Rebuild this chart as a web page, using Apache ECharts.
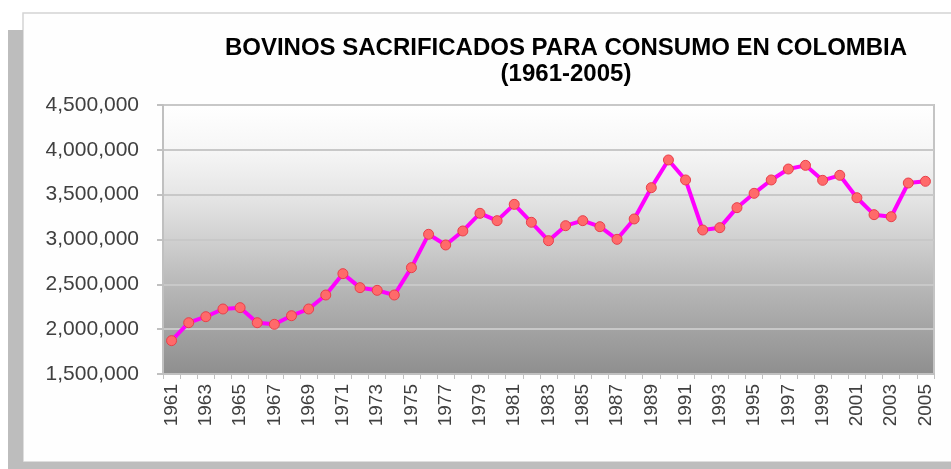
<!DOCTYPE html>
<html>
<head>
<meta charset="utf-8">
<script src="https://cdn.jsdelivr.net/npm/echarts@6/dist/echarts.min.js"></script>
<style>
  html, body { margin: 0; padding: 0; background: #fff; }
  #chart { width: 951px; height: 469px; }
</style>
</head>
<body>
<div id="chart"></div>
<script>
// años 1961-2005
const years = []
for (let y = 1961; y <= 2005; y++) years.push(String(y))

// cabezas sacrificadas
const sacrificados = [
  1872000, 2072000, 2139000, 2225000, 2240000, 2072000, 2054000, 2150000, 2225000, 2381000,
  2619000, 2463000, 2433000, 2381000, 2686000, 3058000, 2939000, 3095000, 3292000, 3210000,
  3392000, 3192000, 2987000, 3154000, 3210000, 3143000, 3002000, 3229000, 3578000, 3887000,
  3664000, 3106000, 3132000, 3355000, 3515000, 3664000, 3786000, 3827000, 3660000, 3716000,
  3466000, 3277000, 3254000, 3630000, 3649000
]

const titleLines = ['BOVINOS SACRIFICADOS PARA CONSUMO EN COLOMBIA', '(1961-2005)']

const chart = echarts.init(document.getElementById('chart'))

// fondo degradado del área de trazado
const plotGradient = new echarts.graphic.LinearGradient(0, 0, 0, 1, [
  { offset: 0, color: '#ffffff' },
  { offset: 0.17, color: '#f6f6f6' },
  { offset: 0.35, color: '#e4e4e4' },
  { offset: 0.5, color: '#d0d0d0' },
  { offset: 0.67, color: '#b8b8b8' },
  { offset: 0.84, color: '#a2a2a2' },
  { offset: 1, color: '#8e8e8e' }
])

chart.setOption({
  animation: false,
  textStyle: { fontFamily: 'Liberation Sans, Arial, sans-serif' },
  graphic: [
    // marco blanco
    { type: 'rect', shape: { x: 23, y: 13, width: 940, height: 449 }, style: { fill: '#fefefe', stroke: '#d4d4d4', lineWidth: 1.5 }, z: -10 },
    // sombra gris del marco
    { type: 'rect', shape: { x: 8, y: 30, width: 15, height: 439 }, style: { fill: '#bdbdbd' }, z: -9 },
    { type: 'rect', shape: { x: 8, y: 462, width: 943, height: 7 }, style: { fill: '#bdbdbd' }, z: -9 },
    // título
    { type: 'text', x: 566, y: 48, style: { text: titleLines[0], textAlign: 'center', textVerticalAlign: 'middle', fill: '#000', font: 'bold 24px "Liberation Sans", Arial, sans-serif' } },
    { type: 'text', x: 566, y: 74, style: { text: titleLines[1], textAlign: 'center', textVerticalAlign: 'middle', fill: '#000', font: 'bold 24px "Liberation Sans", Arial, sans-serif' } }
  ],
  grid: {
    left: 163, top: 105, right: 17, bottom: 95,
    show: true,
    backgroundColor: plotGradient,
    borderColor: '#c4c4c4',
    borderWidth: 2
  },
  xAxis: {
    type: 'category',
    data: years,
    boundaryGap: true,
    axisLine: { lineStyle: { color: '#c0c0c0', width: 2 } },
    axisTick: { show: true, interval: 0, length: 5, lineStyle: { color: '#c0c0c0', width: 1 } },
    axisLabel: { interval: 1, rotate: 90, fontSize: 19, color: '#404040', margin: 10 },
    splitLine: { show: false }
  },
  yAxis: {
    type: 'value',
    min: 1500000,
    max: 4500000,
    interval: 500000,
    axisLine: { show: true, lineStyle: { color: '#c0c0c0', width: 2 } },
    axisTick: { show: true, length: 6, lineStyle: { color: '#c0c0c0', width: 2 } },
    axisLabel: {
      fontSize: 21, color: '#404040', margin: 24,
      formatter: v => v.toLocaleString('en-US')
    },
    splitLine: { show: true, lineStyle: { color: '#c8c8c8', width: 2 } }
  },
  series: [{
    type: 'line',
    data: sacrificados,
    symbol: 'circle',
    symbolSize: 10,
    lineStyle: { color: '#ff00ff', width: 4 },
    itemStyle: { color: '#ff6a6a', borderColor: '#e8404a', borderWidth: 1 }
  }]
})
</script>
</body>
</html>
